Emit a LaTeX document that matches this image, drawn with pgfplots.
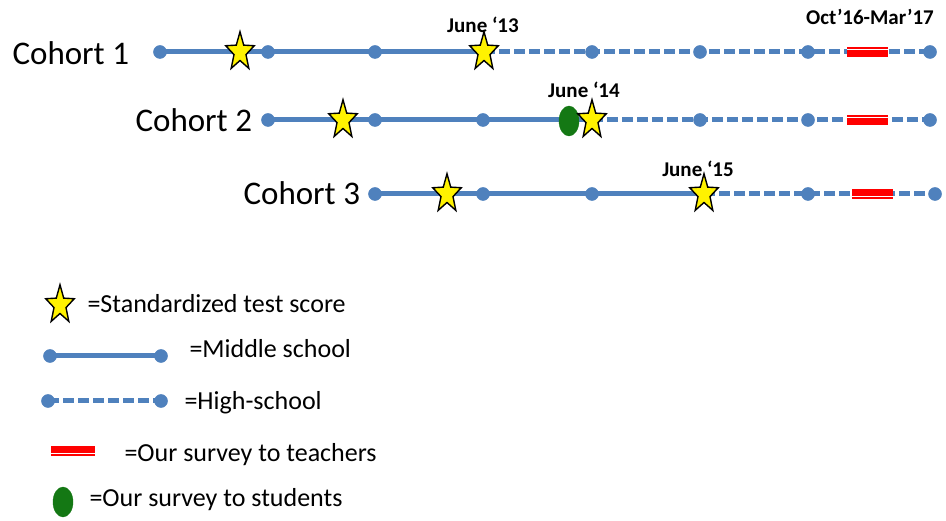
\documentclass[border=0pt]{standalone}
\usepackage{pgfplots}
\pgfplotsset{compat=1.18}
\usepackage{fontspec}
\setmainfont{Carlito}
\definecolor{lblue}{RGB}{79,129,189}
\definecolor{dgreen}{RGB}{20,120,20}
\pgfdeclareplotmark{fstar}{%
  \pgfpathmoveto{\pgfpointpolar{90}{\pgfplotmarksize}}%
  \pgfpathlineto{\pgfpointpolar{126}{0.42*\pgfplotmarksize}}%
  \pgfpathlineto{\pgfpointpolar{162}{\pgfplotmarksize}}%
  \pgfpathlineto{\pgfpointpolar{198}{0.42*\pgfplotmarksize}}%
  \pgfpathlineto{\pgfpointpolar{234}{\pgfplotmarksize}}%
  \pgfpathlineto{\pgfpointpolar{270}{0.42*\pgfplotmarksize}}%
  \pgfpathlineto{\pgfpointpolar{306}{\pgfplotmarksize}}%
  \pgfpathlineto{\pgfpointpolar{342}{0.42*\pgfplotmarksize}}%
  \pgfpathlineto{\pgfpointpolar{18}{\pgfplotmarksize}}%
  \pgfpathlineto{\pgfpointpolar{54}{0.42*\pgfplotmarksize}}%
  \pgfpathclose
  \pgfusepathqfillstroke}
\begin{document}
\begin{tikzpicture}
\begin{axis}[width=946pt, height=520pt, scale only axis, xmin=0, xmax=946, ymin=0, ymax=520,
  axis lines=none, clip=false,
  every node/.style={inner sep=0pt, text=black},
  solidseg/.style={lblue, line width=5pt, mark=*, mark size=6.5pt, mark options={solid, fill=lblue, draw=lblue, line width=0.5pt}},
  dashseg/.style={lblue, line width=5pt, dash pattern=on 11pt off 4pt, mark=*, mark size=6.5pt, mark options={solid, fill=lblue, draw=lblue, line width=0.5pt}},
  starm/.style={only marks, mark=fstar, mark size=15pt, mark options={fill=yellow, draw=black, line width=1.4pt, line join=miter, yscale=1.35}},
  greenm/.style={only marks, mark=*, mark size=10pt, mark options={fill=dgreen, draw=dgreen, yscale=1.5}},
  redbar/.style={red, line width=10pt, no marks},
  whitel/.style={white, line width=1pt, no marks},
]
% Cohort 1
\addplot[solidseg] coordinates {(160,468)(268,468)(375,468)(484,468)};
\addplot[dashseg] coordinates {(484,468)(592,468)(700,468)(808,468)(930,468)};
\addplot[redbar] coordinates {(847,468)(888,468)};
\addplot[whitel] coordinates {(847,470)(888,470)};
\addplot[starm] coordinates {(240,468)(484,468)};
% Cohort 2
\addplot[solidseg] coordinates {(268,400)(375,400)(483,400)(592,400)};
\addplot[dashseg] coordinates {(592,400)(700,400)(808,400)(930,400)};
\addplot[redbar] coordinates {(847,400)(888,400)};
\addplot[whitel] coordinates {(847,402)(888,402)};
\addplot[greenm] coordinates {(569,399)};
\addplot[starm] coordinates {(343,400)(592,400)};
% Cohort 3
\addplot[solidseg] coordinates {(375,326)(483,326)(592,326)(704,326)};
\addplot[dashseg] coordinates {(704,326)(808,326)(935,326)};
\addplot[redbar] coordinates {(852,326)(893,326)};
\addplot[whitel] coordinates {(852,323)(893,323)};
\addplot[starm] coordinates {(447,326)(704,326)};
% Legend
\addplot[starm] coordinates {(60,215)};
\addplot[solidseg] coordinates {(50,164)(161,164)};
\addplot[dashseg] coordinates {(48,119)(161,119)};
\addplot[redbar] coordinates {(51,69)(95,69)};
\addplot[whitel] coordinates {(51,66)(95,66)};
\addplot[greenm] coordinates {(63,18)};
% Texts
\node[anchor=base west, font=\fontsize{33}{40}\selectfont] at (axis cs:9,455) {Cohort 1};
\node[anchor=base west, font=\fontsize{33}{40}\selectfont] at (axis cs:132,388) {Cohort 2};
\node[anchor=base west, font=\fontsize{33}{40}\selectfont] at (axis cs:240,315) {Cohort 3};
\node[anchor=base, font=\fontsize{21}{25}\selectfont\bfseries] at (axis cs:483,487) {June ‘13};
\node[anchor=base, font=\fontsize{21}{25}\selectfont\bfseries] at (axis cs:584,422) {June ‘14};
\node[anchor=base, font=\fontsize{21}{25}\selectfont\bfseries] at (axis cs:698,343) {June ‘15};
\node[anchor=base, font=\fontsize{21}{25}\selectfont\bfseries] at (axis cs:870,495) {Oct’16-Mar’17};
\node[anchor=base west, font=\fontsize{26}{31}\selectfont] at (axis cs:84,207) {=Standardized test score};
\node[anchor=base west, font=\fontsize{26}{31}\selectfont] at (axis cs:186,162) {=Middle school};
\node[anchor=base west, font=\fontsize{26}{31}\selectfont] at (axis cs:181,110) {=High-school};
\node[anchor=base west, font=\fontsize{26}{31}\selectfont] at (axis cs:121,58) {=Our survey to teachers};
\node[anchor=base west, font=\fontsize{26}{31}\selectfont] at (axis cs:86,13) {=Our survey to students};
\end{axis}
\pgfresetboundingbox
\useasboundingbox (0,0) rectangle (946pt,520pt);
\end{tikzpicture}
\end{document}
